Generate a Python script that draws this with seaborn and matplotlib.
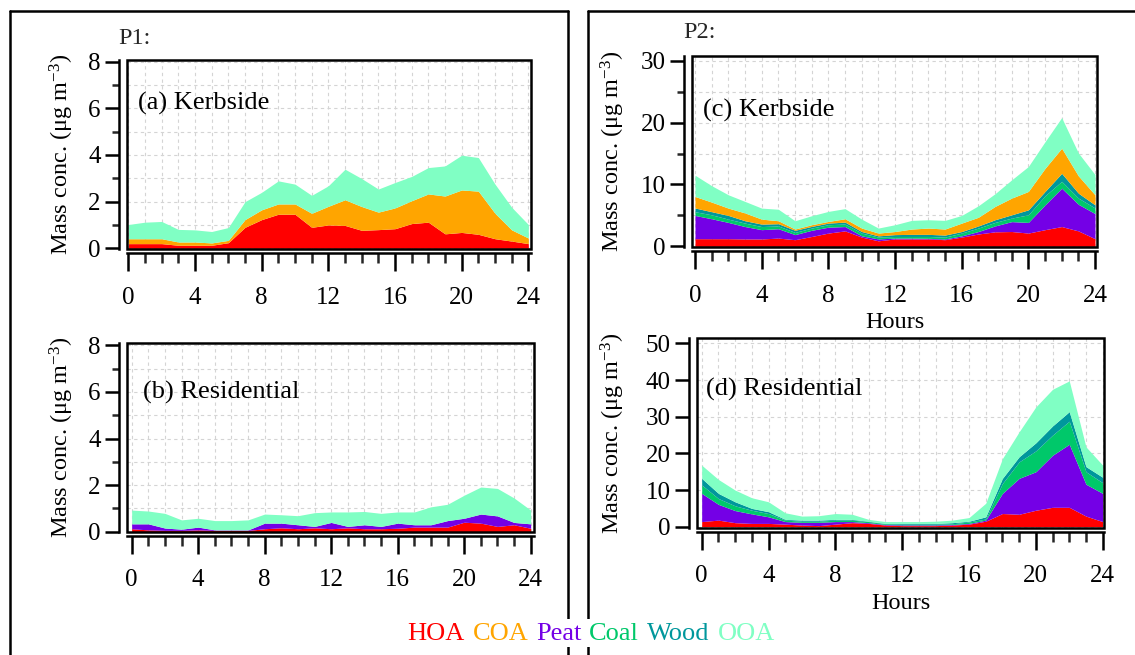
"""
Diurnal cycles of PMF factor mass concentrations, kerbside vs residential,
for two measurement periods (P1, P2). Stacked areas.
"""

import matplotlib
matplotlib.use("Agg")
import matplotlib.pyplot as plt
from matplotlib.lines import Line2D
from matplotlib.patches import Rectangle
from matplotlib.ticker import MultipleLocator
import seaborn as sns

W, H = 1135, 655

hours = list(range(25))

# stacking order, bottom to top
stack_order = ["HOA", "Peat", "Coal", "Wood", "COA", "OOA"]
legend_order = ["HOA", "COA", "Peat", "Coal", "Wood", "OOA"]
colours = {
    "HOA": "#ff0000",
    "COA": "#ffa500",
    "Peat": "#7400e6",
    "Coal": "#00c86a",
    "Wood": "#00979c",
    "OOA": "#80ffc4",
}

# ---- P1, kerbside (a)
p1_kerb_hoa = [0.2, 0.2, 0.2, 0.13, 0.13, 0.13, 0.24, 0.9, 1.23, 1.46, 1.46, 0.9, 1.0,
               0.98, 0.77, 0.8, 0.84, 1.06, 1.12, 0.62, 0.68, 0.6, 0.41, 0.31, 0.2]
p1_kerb_coa = [0.21, 0.21, 0.21, 0.14, 0.14, 0.1, 0.1, 0.33, 0.42, 0.44, 0.44, 0.6, 0.8,
               1.1, 1.02, 0.75, 0.89, 0.98, 1.21, 1.62, 1.82, 1.85, 1.09, 0.48, 0.24]
p1_kerb_ooa = [0.61, 0.71, 0.74, 0.54, 0.52, 0.49, 0.55, 0.77, 0.75, 0.99, 0.85, 0.77, 0.88,
               1.31, 1.2, 0.99, 1.09, 1.04, 1.13, 1.29, 1.49, 1.44, 1.25, 0.97, 0.58]

# ---- P1, residential (b)
p1_res_hoa = [0.13, 0.08, 0.06, 0.06, 0.08, 0.06, 0.06, 0.06, 0.13, 0.17, 0.13, 0.17, 0.13,
              0.17, 0.13, 0.13, 0.15, 0.2, 0.2, 0.2, 0.41, 0.37, 0.23, 0.3, 0.15]
p1_res_peat = [0.21, 0.26, 0.1, 0.05, 0.12, 0.02, 0.02, 0.02, 0.24, 0.2, 0.17, 0.06, 0.27,
               0.06, 0.17, 0.1, 0.22, 0.1, 0.1, 0.28, 0.17, 0.39, 0.45, 0.1, 0.19]
p1_res_ooa = [0.59, 0.55, 0.63, 0.4, 0.38, 0.4, 0.4, 0.43, 0.39, 0.36, 0.39, 0.59, 0.45,
              0.62, 0.57, 0.56, 0.48, 0.55, 0.77, 0.7, 0.99, 1.16, 1.18, 1.05, 0.59]

# ---- P2, kerbside (c)
p2_kerb_hoa = [1.24, 1.24, 1.24, 1.2, 1.2, 1.34, 1.08, 1.6, 2.15, 2.5, 1.5, 0.9, 1.2,
               1.2, 1.2, 1.08, 1.5, 2.0, 2.35, 2.4, 2.15, 2.7, 3.2, 2.5, 1.24]
p2_kerb_peat = [3.76, 3.22, 2.63, 2.0, 1.5, 1.51, 0.82, 1.0, 0.95, 0.7, 0.2, 0.3, 0.14,
                0.14, 0.1, 0.12, 0.2, 0.4, 0.95, 1.6, 1.72, 4.0, 6.2, 4.3, 4.06]
p2_kerb_coal = [0.6, 0.64, 0.53, 0.56, 0.5, 0.45, 0.36, 0.36, 0.4, 0.4, 0.45, 0.3, 0.26,
                0.26, 0.3, 0.3, 0.45, 0.56, 0.57, 0.57, 1.23, 1.47, 1.1, 1.0, 0.9]
p2_kerb_wood = [0.6, 0.5, 0.6, 0.38, 0.4, 0.36, 0.34, 0.27, 0.26, 0.32, 0.25, 0.2, 0.3,
                0.34, 0.34, 0.33, 0.25, 0.34, 0.43, 0.53, 0.8, 0.7, 1.3, 0.8, 0.5]
p2_kerb_coa = [1.86, 1.55, 1.18, 1.26, 0.8, 0.48, 0.2, 0.27, 0.27, 0.54, 0.56, 0.45, 0.5,
               0.86, 1.02, 0.97, 1.36, 1.4, 2.15, 2.7, 2.97, 3.73, 4.06, 2.8, 1.63]
p2_kerb_ooa = [3.44, 2.65, 2.15, 1.86, 1.78, 1.86, 1.34, 1.45, 1.62, 1.64, 1.44, 0.81, 1.1,
               1.4, 1.34, 1.4, 1.24, 1.86, 2.05, 2.95, 4.03, 4.3, 4.94, 3.7, 3.27]

# ---- P2, residential (d)
p2_res_hoa = [1.4, 1.8, 1.1, 0.9, 0.9, 0.7, 0.45, 0.3, 0.7, 1.1, 0.9, 0.45, 0.3,
              0.3, 0.3, 0.45, 0.7, 1.5, 3.6, 3.4, 4.5, 5.3, 5.3, 2.9, 1.4]
p2_res_peat = [7.7, 4.3, 3.3, 2.6, 1.8, 0.7, 0.75, 0.9, 0.7, 0.3, 0.2, 0.15, 0.2,
               0.2, 0.2, 0.15, 0.2, 0.3, 5.5, 9.8, 10.5, 14.2, 17.2, 8.7, 7.7]
p2_res_coal = [2.3, 1.6, 1.3, 1.0, 0.9, 0.4, 0.3, 0.3, 0.4, 0.4, 0.3, 0.2, 0.2,
               0.2, 0.2, 0.2, 0.4, 0.3, 2.7, 4.5, 5.7, 5.5, 6.3, 3.4, 2.9]
p2_res_wood = [1.8, 1.4, 1.1, 0.5, 0.5, 0.2, 0.3, 0.3, 0.2, 0.2, 0.1, 0.1, 0.2,
               0.2, 0.2, 0.3, 0.2, 0.6, 1.4, 1.4, 2.2, 2.5, 2.6, 1.4, 1.5]
p2_res_ooa = [3.6, 3.8, 3.2, 2.9, 2.7, 1.8, 1.1, 1.2, 1.6, 1.4, 0.5, 0.5, 0.5,
              0.5, 0.6, 0.7, 1.0, 3.7, 5.4, 6.8, 9.8, 10.0, 8.4, 5.4, 3.3]

panels = [
    dict(label="(a) Kerbside", series={"HOA": p1_kerb_hoa, "COA": p1_kerb_coa, "OOA": p1_kerb_ooa},
         box=(127, 60, 531, 249), xlim=(-0.08, 24.16), ylim=(-0.03, 8.07), major=2, minor=1,
         ygrid="minor", ylab_x=-0.126, text_xy=(0.027, 0.77), hours_label=False),
    dict(label="(b) Residential", series={"HOA": p1_res_hoa, "Peat": p1_res_peat, "OOA": p1_res_ooa},
         box=(127, 343, 534, 532), xlim=(-0.28, 24.2), ylim=(-0.01, 8.1), major=2, minor=1,
         ygrid="minor", ylab_x=-0.125, text_xy=(0.04, 0.74), hours_label=False),
    dict(label="(c) Kerbside", series={"HOA": p2_kerb_hoa, "Peat": p2_kerb_peat, "Coal": p2_kerb_coal,
                                      "Wood": p2_kerb_wood, "COA": p2_kerb_coa, "OOA": p2_kerb_ooa},
         box=(692, 56, 1097, 247), xlim=(-0.18, 24.12), ylim=(-0.1, 30.75), major=10, minor=5,
         ygrid="minor", ylab_x=-0.16, text_xy=(0.027, 0.717), hours_label=True),
    dict(label="(d) Residential", series={"HOA": p2_res_hoa, "Peat": p2_res_peat, "Coal": p2_res_coal,
                                         "Wood": p2_res_wood, "OOA": p2_res_ooa},
         box=(697, 338, 1104, 528), xlim=(-0.28, 24.08), ylim=(-0.35, 51.5), major=10, minor=None,
         ygrid="major", ylab_x=-0.172, text_xy=(0.022, 0.73), hours_label=True),
]

sns.set_theme(style="ticks")
plt.rcParams["font.family"] = ["Liberation Serif", "DejaVu Serif"]
plt.rcParams["mathtext.fontset"] = "custom"
plt.rcParams["mathtext.rm"] = "Liberation Serif"
plt.rcParams["mathtext.default"] = "regular"

fig = plt.figure(figsize=(W / 100, H / 100), dpi=100)
fig.patch.set_facecolor("white")


def fig_rect(x0, y0, x1, y1):
    return [x0 / W, 1 - y1 / H, (x1 - x0) / W, (y1 - y0) / H]


grid_kw = dict(color="#d4d4d4", linestyle=(0, (3, 3)), linewidth=0.8)

for p in panels:
    ax = fig.add_axes(fig_rect(*p["box"]))
    names = [s for s in stack_order if s in p["series"]]
    ax.stackplot(hours, *[p["series"][s] for s in names],
                 colors=[colours[s] for s in names], linewidth=0, zorder=2)
    ax.set_xlim(*p["xlim"])
    ax.set_ylim(*p["ylim"])

    ax.xaxis.set_major_locator(MultipleLocator(4))
    ax.xaxis.set_minor_locator(MultipleLocator(1))
    ax.yaxis.set_major_locator(MultipleLocator(p["major"]))
    if p["minor"]:
        ax.yaxis.set_minor_locator(MultipleLocator(p["minor"]))

    ax.set_axisbelow(True)
    ax.grid(True, which="both", axis="x", **grid_kw)
    ax.grid(True, which=p["ygrid"], axis="y", **grid_kw)
    if p["ygrid"] == "minor":
        ax.grid(True, which="major", axis="y", **grid_kw)

    for side in ("top", "right"):
        ax.spines[side].set_visible(False)
    ax.spines["left"].set_position(("outward", 6))
    ax.spines["bottom"].set_position(("outward", 3))
    for side in ("left", "bottom"):
        ax.spines[side].set_linewidth(1.8)
        ax.spines[side].set_color("black")
    ax.add_patch(Rectangle((0, 0), 1, 1, transform=ax.transAxes, fill=False,
                           edgecolor="black", linewidth=1.8, clip_on=False, zorder=5))

    ax.tick_params(axis="x", which="major", direction="out", length=13, width=1.8,
                   pad=11, labelsize=18, colors="black")
    ax.tick_params(axis="x", which="minor", direction="out", length=7, width=1.8)
    ax.tick_params(axis="y", which="major", direction="out", length=10, width=1.8,
                   pad=3, labelsize=18, colors="black")
    ax.tick_params(axis="y", which="minor", direction="out", length=5, width=1.8)

    ax.set_ylabel("Mass conc. (μg m$^{-3}$)", fontsize=17.5, color="black")
    ax.yaxis.set_label_coords(p["ylab_x"], 0.5)
    if p["hours_label"]:
        ax.set_xlabel("Hours", fontsize=17.5, color="black", labelpad=4)

    ax.text(*p["text_xy"], p["label"], transform=ax.transAxes, fontsize=19,
            va="center", ha="left", color="black", zorder=6)

fig.text(118 / W, 1 - 38 / H, "P1:", fontsize=17.5, va="center", ha="left")
fig.text(683 / W, 1 - 32 / H, "P2:", fontsize=17.5, va="center", ha="left")

# outer frames round each period
frame_kw = dict(transform=fig.transFigure, color="black", linewidth=1.8, zorder=1)
for xs, ys in [
    ((10, 568), (11, 11)), ((10, 10), (11, 660)), ((568, 568), (11, 660)),
    ((588, 1140), (11, 11)), ((588, 588), (11, 660)),
]:
    fig.add_artist(Line2D([x / W for x in xs], [1 - y / H for y in ys], **frame_kw))

handles = [Line2D([], [], color=colours[s], label=s) for s in legend_order]
leg = fig.legend(handles=handles, loc="center", bbox_to_anchor=(591 / W, 1 - 633 / H),
                 ncol=6, handlelength=0, handletextpad=0, columnspacing=0.3,
                 labelcolor="linecolor", frameon=True, facecolor="white",
                 edgecolor="none", framealpha=1, fontsize=19, borderpad=0.1)
leg.set_zorder(10)

fig.savefig("out.png", dpi=100, facecolor="white")
